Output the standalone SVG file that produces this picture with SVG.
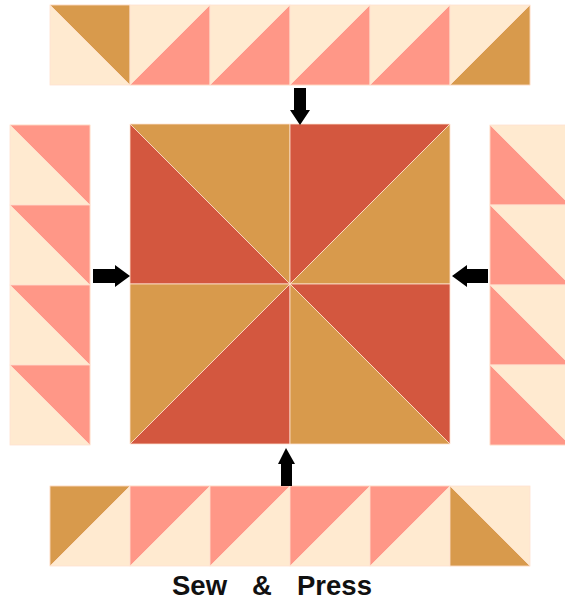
<svg xmlns="http://www.w3.org/2000/svg" width="565" height="602" viewBox="0 0 565 602">
<style>
.c{fill:#FFEAD0}
.p{fill:#FF9787}
.t{fill:#D89A4C}
.r{fill:#D3573F}
.sq rect,.sq polygon{stroke:#FFE2D0;stroke-width:0.8}
.arr{fill:#000}
.lbl{font-family:"Liberation Sans",Arial,sans-serif;font-size:27.5px;font-weight:bold;fill:#111}
</style>
<rect width="565" height="602" fill="#fff"/>
<g id="top-strip" class="sq">
<rect class="c" x="50" y="5" width="80" height="80"/><polygon class="t" points="50,5 130,5 130,85"/>
<rect class="c" x="130" y="5" width="80" height="80"/><polygon class="p" points="130,85 210,5 210,85"/>
<rect class="c" x="210" y="5" width="80" height="80"/><polygon class="p" points="210,85 290,5 290,85"/>
<rect class="c" x="290" y="5" width="80" height="80"/><polygon class="p" points="290,85 370,5 370,85"/>
<rect class="c" x="370" y="5" width="80" height="80"/><polygon class="p" points="370,85 450,5 450,85"/>
<rect class="c" x="450" y="5" width="80" height="80"/><polygon class="t" points="450,85 530,5 530,85"/>
</g>
<g id="left-strip" class="sq">
<rect class="c" x="10" y="125" width="80" height="80"/><polygon class="p" points="10,125 90,125 90,205"/>
<rect class="c" x="10" y="205" width="80" height="80"/><polygon class="p" points="10,205 90,205 90,285"/>
<rect class="c" x="10" y="285" width="80" height="80"/><polygon class="p" points="10,285 90,285 90,365"/>
<rect class="c" x="10" y="365" width="80" height="80"/><polygon class="p" points="10,365 90,365 90,445"/>
</g>
<g id="right-strip" class="sq">
<rect class="c" x="490" y="125" width="80" height="80"/><polygon class="p" points="490,125 490,205 570,205"/>
<rect class="c" x="490" y="205" width="80" height="80"/><polygon class="p" points="490,205 490,285 570,285"/>
<rect class="c" x="490" y="285" width="80" height="80"/><polygon class="p" points="490,285 490,365 570,365"/>
<rect class="c" x="490" y="365" width="80" height="80"/><polygon class="p" points="490,365 490,445 570,445"/>
</g>
<g id="bottom-strip" class="sq">
<rect class="c" x="50" y="486" width="80" height="80"/><polygon class="t" points="50,486 130,486 50,566"/>
<rect class="c" x="130" y="486" width="80" height="80"/><polygon class="p" points="130,486 210,486 130,566"/>
<rect class="c" x="210" y="486" width="80" height="80"/><polygon class="p" points="210,486 290,486 210,566"/>
<rect class="c" x="290" y="486" width="80" height="80"/><polygon class="p" points="290,486 370,486 290,566"/>
<rect class="c" x="370" y="486" width="80" height="80"/><polygon class="p" points="370,486 450,486 370,566"/>
<rect class="c" x="450" y="486" width="80" height="80"/><polygon class="t" points="450,486 450,566 530,566"/>
</g>
<g id="center-block" class="sq">
<polygon class="t" points="130,124 290,124 290,284"/>
<polygon class="r" points="130,124 130,284 290,284"/>
<polygon class="r" points="290,124 450,124 290,284"/>
<polygon class="t" points="450,124 450,284 290,284"/>
<polygon class="t" points="130,284 290,284 130,444"/>
<polygon class="r" points="290,284 290,444 130,444"/>
<polygon class="r" points="290,284 450,284 450,444"/>
<polygon class="t" points="290,284 450,444 290,444"/>
</g>
<g id="connectors">
<polygon class="arr" points="294,88 306,88 306,110 310,110 300,125 290,110 294,110"/>
<polygon class="arr" points="93,269 115,269 115,265 130,276 115,287 115,283 93,283"/>
<polygon class="arr" points="488,269 467,269 467,265 452,276 467,287 467,283 488,283"/>
<polygon class="arr" points="281,486 292,486 292,464 295,464 286,448 278,464 281,464"/>
</g>
<g id="label">
<text class="lbl" y="595"><tspan x="172">Sew</tspan> <tspan x="252">&amp;</tspan> <tspan x="297">Press</tspan></text>
</g>
</svg>
